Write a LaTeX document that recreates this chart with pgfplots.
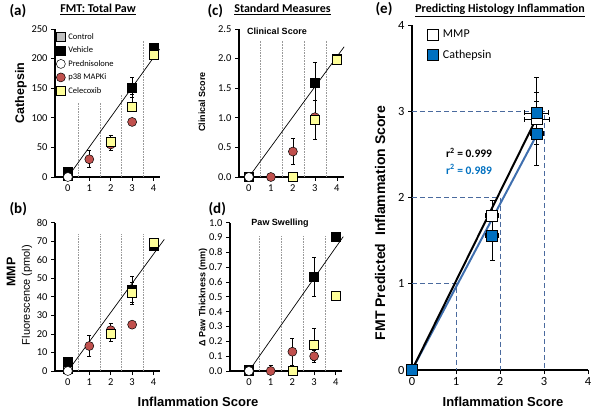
\documentclass[border=0pt]{standalone}
\usepackage{fontspec}
\setmainfont{Carlito}
\newfontfamily\arial{Liberation Sans}
\usepackage{pgfplots}
\pgfplotsset{compat=1.18}

\definecolor{ctrl}{HTML}{C0C0C0}
\definecolor{mapk}{HTML}{C0504D}
\definecolor{celx}{HTML}{FFFF99}
\definecolor{cath}{HTML}{0070C0}
\definecolor{bline}{HTML}{3F6FAF}
\definecolor{dashc}{HTML}{4A6A9E}

\pgfplotsset{
  panel/.style={scale only axis, anchor=south west, clip=false,
    axis x line*=bottom, axis y line*=left,
    axis line style={line width=1.7pt,-},
    tick align=outside, major tick length=4pt,
    tick style={black, line width=0.8pt},
    ticklabel style={font=\fontsize{10.5}{12}\selectfont},
    /pgf/number format/assume math mode=true,
    xtick={0,...,4}, xmax=4.3, ymin=0},
  dot/.style={only marks, mark size=4.5pt,
    legend image code/.code={\draw[##1] plot coordinates {(0pt,0pt)};},
    error bars/y dir=both, error bars/y explicit,
    error bars/error bar style={black, line width=0.7pt},
    error bars/error mark options={rotate=90, black, mark size=2pt, line width=0.7pt}},
  sctl/.style={dot, mark=square*, mark options={draw=black, fill=ctrl, line width=0.5pt}},
  sveh/.style={dot, mark=square*, mark options={draw=black, fill=black}},
  spred/.style={dot, mark=*, mark options={draw=black, fill=white, line width=0.5pt}},
  smapk/.style={dot, mark=*, mark options={draw=black, fill=mapk, line width=0.5pt}},
  scelx/.style={dot, mark=square*, mark options={draw=black, fill=celx, line width=0.5pt}},
  vsep/.style={gray!80, densely dotted, line width=0.6pt, forget plot},
  trend/.style={black, line width=0.7pt, forget plot},
  hsq/.style={only marks, mark=square*, mark size=5.5pt,
    legend image code/.code={\draw[##1] plot coordinates {(0pt,0pt)};},
    error bars/x dir=both, error bars/x explicit,
    error bars/y dir=both, error bars/y explicit,
    error bars/error bar style={black, line width=0.8pt},
    error bars/error mark options={rotate=90, black, mark size=2.5pt, line width=0.8pt}},
}

\begin{document}
\begin{tikzpicture}
\useasboundingbox (0,0) rectangle (600pt,-409pt);

% (a) Cathepsin
\begin{axis}[panel, at={(55pt,-177pt)}, width=105pt, height=148pt,
  xmin=-0.6, ymax=250, ytick={0,50,...,250},
  legend cell align=left,
  legend style={draw=none, fill=none, inner xsep=0pt, inner ysep=0pt,
    anchor=north west, at={(rel axis cs:0.011,0.985)},
    font=\fontsize{8.5}{10}\selectfont, row sep=2.5pt, column sep=2pt,
    nodes={inner sep=1pt, minimum height=11pt}}]
\addplot[vsep] coordinates {(0.5,0) (0.5,125)};
\addplot[vsep] coordinates {(1.5,0) (1.5,125)};
\addplot[vsep] coordinates {(2.5,0) (2.5,140)};
\addplot[vsep] coordinates {(3.5,0) (3.5,230)};
\addplot[trend] coordinates {(0,0) (4.28,216)};
\addplot[sctl] coordinates {(0,2)}; \addlegendentry{Control}
\addplot[sveh] coordinates {(0,9) (3,151) +- (0,17) (4,218)}; \addlegendentry{Vehicle}
\addplot[spred] coordinates {(0,0)}; \addlegendentry{Prednisolone}
\addplot[smapk] coordinates {(1,30) +- (0,14.5) (2,55) (3,93)}; \addlegendentry{p38 MAPKi}
\addplot[scelx] coordinates {(2,60) += (0,11) -= (0,15) (3,118) += (0,22) -= (0,0) (4,206)}; \addlegendentry{Celecoxib}
\end{axis}

% (b) MMP
\begin{axis}[panel, at={(55pt,-371pt)}, width=105pt, height=148.3pt,
  xmin=-0.6, ymax=80, ytick={0,10,...,80}]
\addplot[vsep] coordinates {(0.5,0) (0.5,74)};
\addplot[vsep] coordinates {(1.5,0) (1.5,74)};
\addplot[vsep] coordinates {(2.5,0) (2.5,74)};
\addplot[vsep] coordinates {(3.5,0) (3.5,74)};
\addplot[trend] coordinates {(0,0) (4.5,71)};
\addplot[sctl] coordinates {(0,1)};
\addplot[sveh] coordinates {(0,5) (3,44) +- (0,7) (4,67.5)};
\addplot[spred] coordinates {(0,0)};
\addplot[smapk] coordinates {(1,13.5) +- (0,5.5) (2,22) +- (0,3.5) (3,25)};
\addplot[scelx] coordinates {(2,20) +- (0,4) (3,42) +- (0,6) (4,69)};
\end{axis}

% (c) Clinical score
\begin{axis}[panel, at={(239pt,-177pt)}, width=104.5pt, height=148pt,
  xmin=-0.45, ymax=2.5, ytick={0,0.5,...,2.5},
  yticklabel style={/pgf/number format/.cd, fixed, fixed zerofill, precision=1}]
\addplot[vsep] coordinates {(0.5,0) (0.5,2.3)};
\addplot[vsep] coordinates {(1.5,0) (1.5,2.3)};
\addplot[vsep] coordinates {(2.5,0) (2.5,2.3)};
\addplot[vsep] coordinates {(3.5,0) (3.5,2.3)};
\addplot[trend] coordinates {(0,0) (4.33,2.2)};
\addplot[sctl] coordinates {(0,0)};
\addplot[sveh] coordinates {(0,0) (3,1.59) += (0,0.34) -= (0,0.3) (4,2.0)};
\addplot[spred] coordinates {(0,0)};
\addplot[smapk] coordinates {(1,0) (2,0.43) +- (0,0.22) (3,1.01)};
\addplot[scelx] coordinates {(2,0) (3,0.96) +- (0,0.33) (4,1.98)};
\end{axis}

% (d) Paw swelling
\begin{axis}[panel, at={(230pt,-371pt)}, width=112.4pt, height=148.3pt,
  xmin=-0.87, ymax=1.0, ytick={0,0.1,...,1.0},
  yticklabel style={/pgf/number format/.cd, fixed, fixed zerofill, precision=1}]
\addplot[vsep] coordinates {(0.5,0) (0.5,0.91)};
\addplot[vsep] coordinates {(1.5,0) (1.5,0.91)};
\addplot[vsep] coordinates {(2.5,0) (2.5,0.91)};
\addplot[vsep] coordinates {(3.5,0) (3.5,0.91)};
\addplot[trend] coordinates {(0,0) (4.34,0.906)};
\addplot[sctl] coordinates {(0,0)};
\addplot[sveh] coordinates {(0,0.01) (3,0.635) +- (0,0.13) (4,0.905)};
\addplot[spred] coordinates {(0,0)};
\addplot[smapk] coordinates {(1,0) += (0,0.04) -= (0,0) (2,0.13) +- (0,0.09) (3,0.10) +- (0,0.04)};
\addplot[scelx] coordinates {(2,0) (3,0.18) +- (0,0.105) (4,0.505)};
\end{axis}

% (e) Predicting histology
\begin{axis}[panel, at={(412pt,-370pt)}, width=176pt, height=345pt,
  xmin=0, xmax=4, ymin=0, ymax=4, ytick={0,...,4},
  ticklabel style={font=\fontsize{12.5}{14}\selectfont},
  legend cell align=left,
  legend style={draw=none, fill=none, inner xsep=0pt, inner ysep=0pt,
    anchor=north west, at={(rel axis cs:0.084,0.993)},
    font=\fontsize{12}{14}\selectfont, row sep=6pt, column sep=4pt,
    nodes={inner sep=1pt, minimum height=14pt}}]
\addplot[dashc, dash pattern=on 5pt off 3pt, line width=1pt, forget plot] coordinates {(0,1) (1,1) (1,0)};
\addplot[dashc, dash pattern=on 5pt off 3pt, line width=1pt, forget plot] coordinates {(0,2) (2,2) (2,0)};
\addplot[dashc, dash pattern=on 5pt off 3pt, line width=1pt, forget plot] coordinates {(0,3) (3,3) (3,0)};
\addplot[bline, line width=2pt, forget plot] coordinates {(0,0) (2.87,2.76)};
\addplot[black, line width=2pt, forget plot] coordinates {(0,0) (2.81,2.9)};
\addplot[hsq, mark options={draw=black, fill=white, line width=0.6pt}]
  coordinates {(0,0) (1.82,1.79) +- (0.15,0.18)
    (2.83,2.91) += (0.29,0.48) -= (0.27,0.29)};
\addlegendentry{MMP}
\addplot[hsq, mark options={draw=black, fill=cath, line width=0.6pt}]
  coordinates {(0,0) (1.82,1.56) +- (0.15,0.29)
    (2.83,2.98) +- (0.28,0.24)
    (2.83,2.74) += (0.15,0.37) -= (0.13,0.37)};
\addlegendentry{Cathepsin}
\end{axis}

% titles and labels
\node[anchor=base west, font=\bfseries\fontsize{15}{17}\selectfont] at (6pt,-16pt) {(a)};
\node[anchor=base, font=\bfseries\fontsize{12}{14}\selectfont] at (98pt,-12.7pt) {\underline{FMT: Total Paw}};
\node[anchor=base west, font=\bfseries\fontsize{15}{17}\selectfont] at (6pt,-213.5pt) {(b)};
\node[anchor=base west, font=\bfseries\fontsize{15}{17}\selectfont] at (204pt,-16pt) {(c)};
\node[anchor=base, font=\bfseries\fontsize{12}{14}\selectfont] at (282.5pt,-12.7pt) {\underline{Standard Measures}};
\node[anchor=base west, font=\bfseries\fontsize{15}{17}\selectfont] at (205pt,-213.5pt) {(d)};
\node[anchor=base west, font=\bfseries\fontsize{15}{17}\selectfont] at (372pt,-14pt) {(e)};
\node[anchor=base, font=\bfseries\fontsize{12}{14}\selectfont] at (500pt,-12.5pt) {\underline{Predicting Histology Inflammation}};

\node[rotate=90, font=\arial\bfseries\fontsize{12.5}{14}\selectfont] at (21pt,-93pt) {Cathepsin};
\node[rotate=90, font=\arial\bfseries\fontsize{12.5}{14}\selectfont] at (11pt,-272pt) {MMP};
\node[rotate=90, font=\arial\fontsize{11}{13}\selectfont] at (27pt,-295pt) {Fluorescence (pmol)};
\node[rotate=90, font=\arial\bfseries\fontsize{9}{11}\selectfont] at (202pt,-102pt) {Clinical Score};
\node[rotate=90, font=\arial\bfseries\fontsize{9}{11}\selectfont] at (203pt,-297pt) {Δ Paw Thickness (mm)};
\node[font=\arial\bfseries\fontsize{9}{11}\selectfont] at (277pt,-31pt) {Clinical Score};
\node[font=\arial\bfseries\fontsize{9}{11}\selectfont] at (280pt,-223pt) {Paw Swelling};

\node[font=\arial\bfseries\fontsize{13}{15}\selectfont] at (198pt,-402pt) {Inflammation Score};
\node[font=\arial\bfseries\fontsize{13}{15}\selectfont] at (503pt,-402pt) {Inflammation Score};
\node[rotate=90, font=\arial\bfseries\fontsize{14}{16}\selectfont] at (380pt,-223pt) {FMT Predicted\ \ Inflammation Score};

\node[font=\bfseries\fontsize{11.5}{13}\selectfont] at (469pt,-152.7pt) {r\textsuperscript{2} = 0.999};
\node[font=\bfseries\fontsize{11.5}{13}\selectfont, text=cath] at (469pt,-169.3pt) {r\textsuperscript{2} = 0.989};
\end{tikzpicture}
\end{document}
